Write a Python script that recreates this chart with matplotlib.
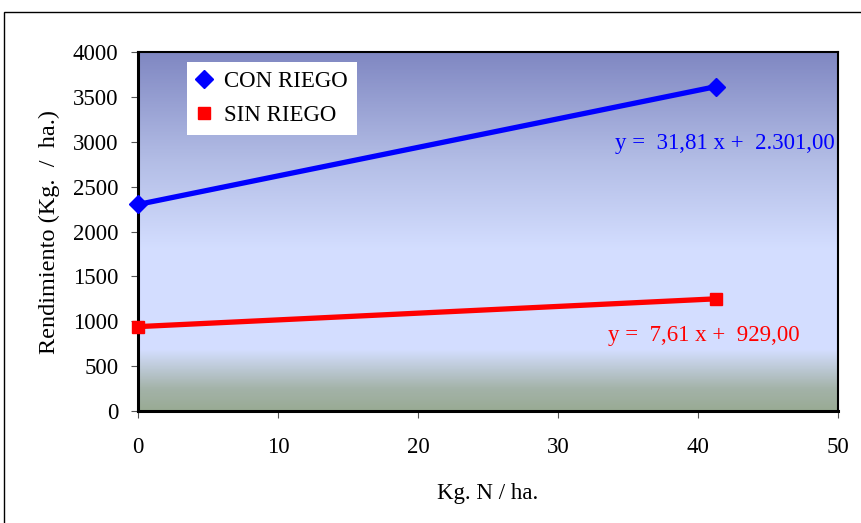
import numpy as np
import matplotlib
matplotlib.use("Agg")
import matplotlib.pyplot as plt
from matplotlib.colors import LinearSegmentedColormap
from matplotlib.patches import Rectangle

# data
dosis = [0, 41.3]
con_riego = [2301, 3615]
sin_riego = [940, 1250]
ec_con = "y =  31,81 x +  2.301,00"
ec_sin = "y =  7,61 x +  929,00"

plt.rcParams['font.family'] = ['Liberation Serif', 'DejaVu Serif']

fig = plt.figure(figsize=(8.62, 5.23), dpi=100)
ax = fig.add_axes([138 / 862, 1 - 411 / 523, 700 / 862, 359 / 523])

# outer chart border (runs off right and bottom like the original)
fig.patches.append(Rectangle((4 / 862, -0.1), 1.2, 1.1 - 12 / 523,
                             transform=fig.transFigure, fill=False,
                             edgecolor='black', linewidth=1.0))

# background gradient of the plot area
cmap = LinearSegmentedColormap.from_list('fondo', [
    (0.00, (0.60, 0.67, 0.58)),
    (0.06, (0.64, 0.70, 0.66)),
    (0.17, (0.83, 0.87, 1.00)),
    (0.45, (0.83, 0.87, 1.00)),
    (0.70, (0.70, 0.74, 0.90)),
    (1.00, (0.50, 0.53, 0.76)),
])
grad = np.linspace(0, 1, 256).reshape(-1, 1)
ax.imshow(grad, extent=[0, 1, 0, 1], transform=ax.transAxes, aspect='auto',
          origin='lower', cmap=cmap, zorder=0)

ax.plot(dosis, con_riego, color='#0000ff', lw=3.8, marker='D', ms=9,
        label='CON RIEGO', zorder=3, clip_on=False)
ax.plot(dosis, sin_riego, color='#ff0000', lw=3.8, marker='s', ms=9,
        label='SIN RIEGO', zorder=3, clip_on=False)

ax.text(34.1, 2986, ec_con, color='#0000ff', fontsize=16.5, va='center')
ax.text(33.6, 836, ec_sin, color='#ff0000', fontsize=16.5, va='center')

ax.set_xlim(0, 50)
ax.set_ylim(0, 4000)
ax.set_xticks(range(0, 51, 10))
ax.set_yticks(range(0, 4001, 500))
ax.tick_params(labelsize=16.5, direction='out', length=5, color='#555555')
ax.tick_params(axis='x', pad=14)
ax.tick_params(axis='y', pad=9)

for s in ['left', 'bottom']:
    ax.spines[s].set_linewidth(2.2)
for s in ['top', 'right']:
    ax.spines[s].set_linewidth(1.5)

ax.set_xlabel('Kg. N / ha.', fontsize=16.5, labelpad=18)
ax.set_ylabel('Rendimiento (Kg.  /  ha.)', fontsize=17.5, labelpad=9)

leg = ax.legend(loc='upper left', bbox_to_anchor=(49 / 700, 1 - 10 / 359),
                fontsize=16.5, frameon=True, fancybox=False, framealpha=1,
                edgecolor='white', handlelength=0.7, handletextpad=0.5,
                labelspacing=0.55, borderpad=0.4, borderaxespad=0)
leg.get_frame().set_linewidth(0)
for h in leg.get_lines():
    h.set_linestyle('none')

fig.savefig('out.png', dpi=100)
